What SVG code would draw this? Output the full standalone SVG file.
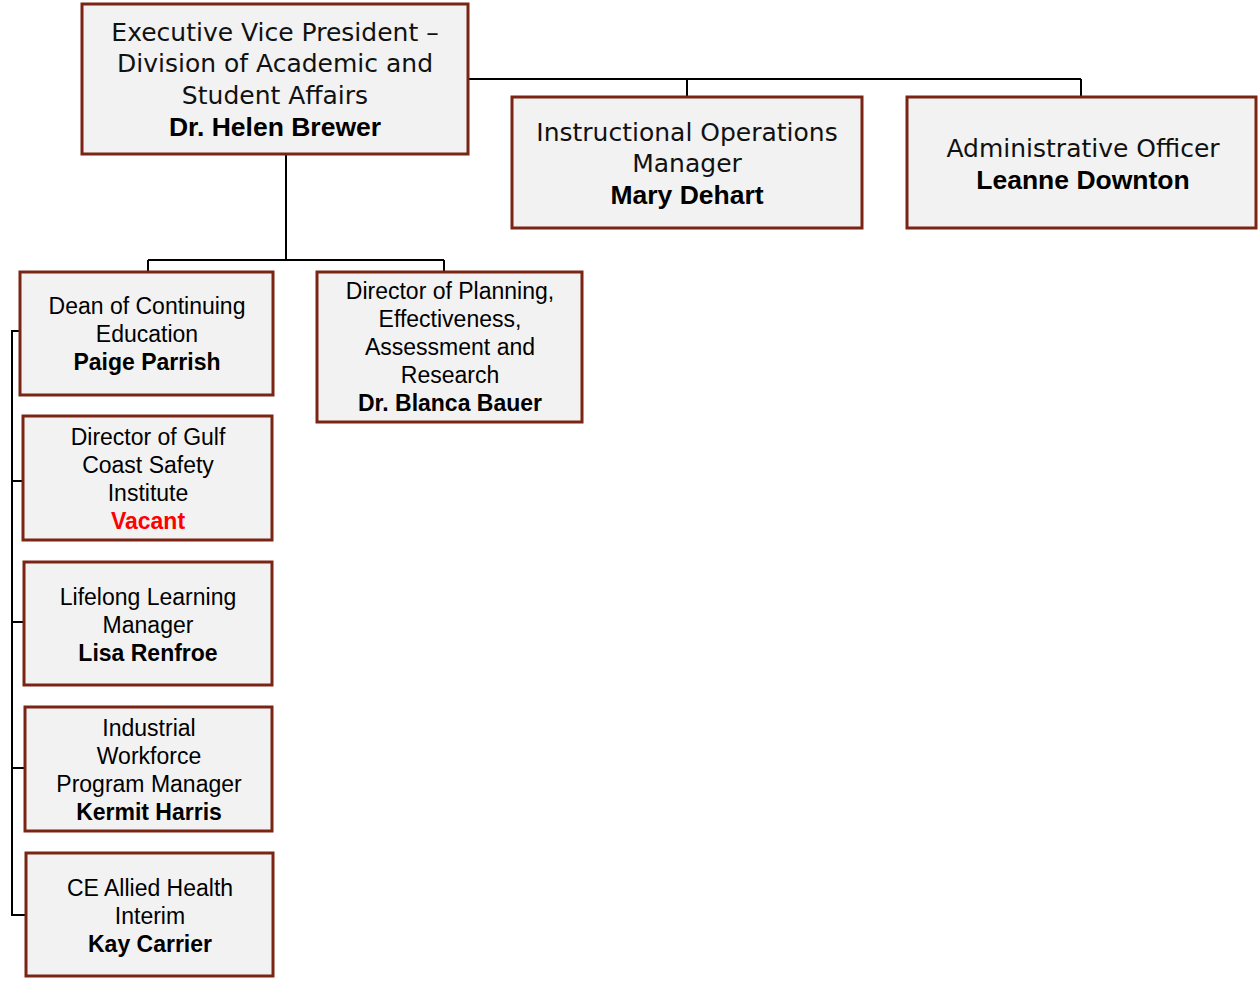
<svg xmlns="http://www.w3.org/2000/svg" width="1258" height="981" viewBox="0 0 1258 981">
  <style>
    .box { fill: #f2f2f2; stroke: #7a2414; stroke-width: 3; }
    .wire { fill: none; stroke: #000; stroke-width: 2; }
    .t1 { font-family: "DejaVu Sans", "Liberation Sans", sans-serif; font-size: 25px; fill: #111; text-anchor: middle; }
    .t1b { font-family: "Liberation Sans", Arial, sans-serif; font-size: 26.5px; font-weight: bold; fill: #000; text-anchor: middle; }
    .t2 { font-family: "Liberation Sans", Arial, sans-serif; font-size: 23px; fill: #000; text-anchor: middle; }
    .t2b { font-family: "Liberation Sans", Arial, sans-serif; font-size: 23px; font-weight: bold; fill: #000; text-anchor: middle; }
    .vacant { fill: #ff0000; }
  </style>
  <rect width="1258" height="981" fill="#ffffff"/>

  <!-- reporting lines -->
  <g id="connectors">
    <path class="wire" d="M468 79 H1081 M687 79 V97 M1081 79 V97"/>
    <path class="wire" d="M286 154 V260 M148 260 H444 M148 260 V272 M444 260 V272"/>
    <path class="wire" d="M20 331 H12 V915 H26 M12 481 H23 M12 622 H24 M12 768 H25"/>
  </g>

  <g id="evp">
    <rect class="box" x="82" y="4" width="386" height="150"/>
    <text class="t1" x="275" y="41">Executive Vice President –</text>
    <text class="t1" x="275" y="72">Division of Academic and</text>
    <text class="t1" x="275" y="104">Student Affairs</text>
    <text class="t1b" x="275" y="136">Dr. Helen Brewer</text>
  </g>

  <g id="instructional-ops">
    <rect class="box" x="512" y="97" width="350" height="131"/>
    <text class="t1" x="687" y="141">Instructional Operations</text>
    <text class="t1" x="687" y="172">Manager</text>
    <text class="t1b" x="687" y="204">Mary Dehart</text>
  </g>

  <g id="admin-officer">
    <rect class="box" x="907" y="97" width="349" height="131"/>
    <text class="t1" x="1083" y="157">Administrative Officer</text>
    <text class="t1b" x="1083" y="189">Leanne Downton</text>
  </g>

  <g id="dean-ce">
    <rect class="box" x="20" y="272" width="253" height="123"/>
    <text class="t2" x="147" y="314">Dean of Continuing</text>
    <text class="t2" x="147" y="342">Education</text>
    <text class="t2b" x="147" y="370">Paige Parrish</text>
  </g>

  <g id="director-planning">
    <rect class="box" x="317" y="272" width="265" height="150"/>
    <text class="t2" x="450" y="299">Director of Planning,</text>
    <text class="t2" x="450" y="327">Effectiveness,</text>
    <text class="t2" x="450" y="355">Assessment and</text>
    <text class="t2" x="450" y="383">Research</text>
    <text class="t2b" x="450" y="411">Dr. Blanca Bauer</text>
  </g>

  <g id="gulf-coast">
    <rect class="box" x="23" y="416" width="249" height="124"/>
    <text class="t2" x="148" y="445">Director of Gulf</text>
    <text class="t2" x="148" y="473">Coast Safety</text>
    <text class="t2" x="148" y="501">Institute</text>
    <text class="t2b vacant" x="148" y="529">Vacant</text>
  </g>

  <g id="lifelong-learning">
    <rect class="box" x="24" y="562" width="248" height="123"/>
    <text class="t2" x="148" y="605">Lifelong Learning</text>
    <text class="t2" x="148" y="633">Manager</text>
    <text class="t2b" x="148" y="661">Lisa Renfroe</text>
  </g>

  <g id="industrial-workforce">
    <rect class="box" x="25" y="707" width="247" height="124"/>
    <text class="t2" x="149" y="736">Industrial</text>
    <text class="t2" x="149" y="764">Workforce</text>
    <text class="t2" x="149" y="792">Program Manager</text>
    <text class="t2b" x="149" y="820">Kermit Harris</text>
  </g>

  <g id="allied-health">
    <rect class="box" x="26" y="853" width="247" height="123"/>
    <text class="t2" x="150" y="896">CE Allied Health</text>
    <text class="t2" x="150" y="924">Interim</text>
    <text class="t2b" x="150" y="952">Kay Carrier</text>
  </g>
</svg>
